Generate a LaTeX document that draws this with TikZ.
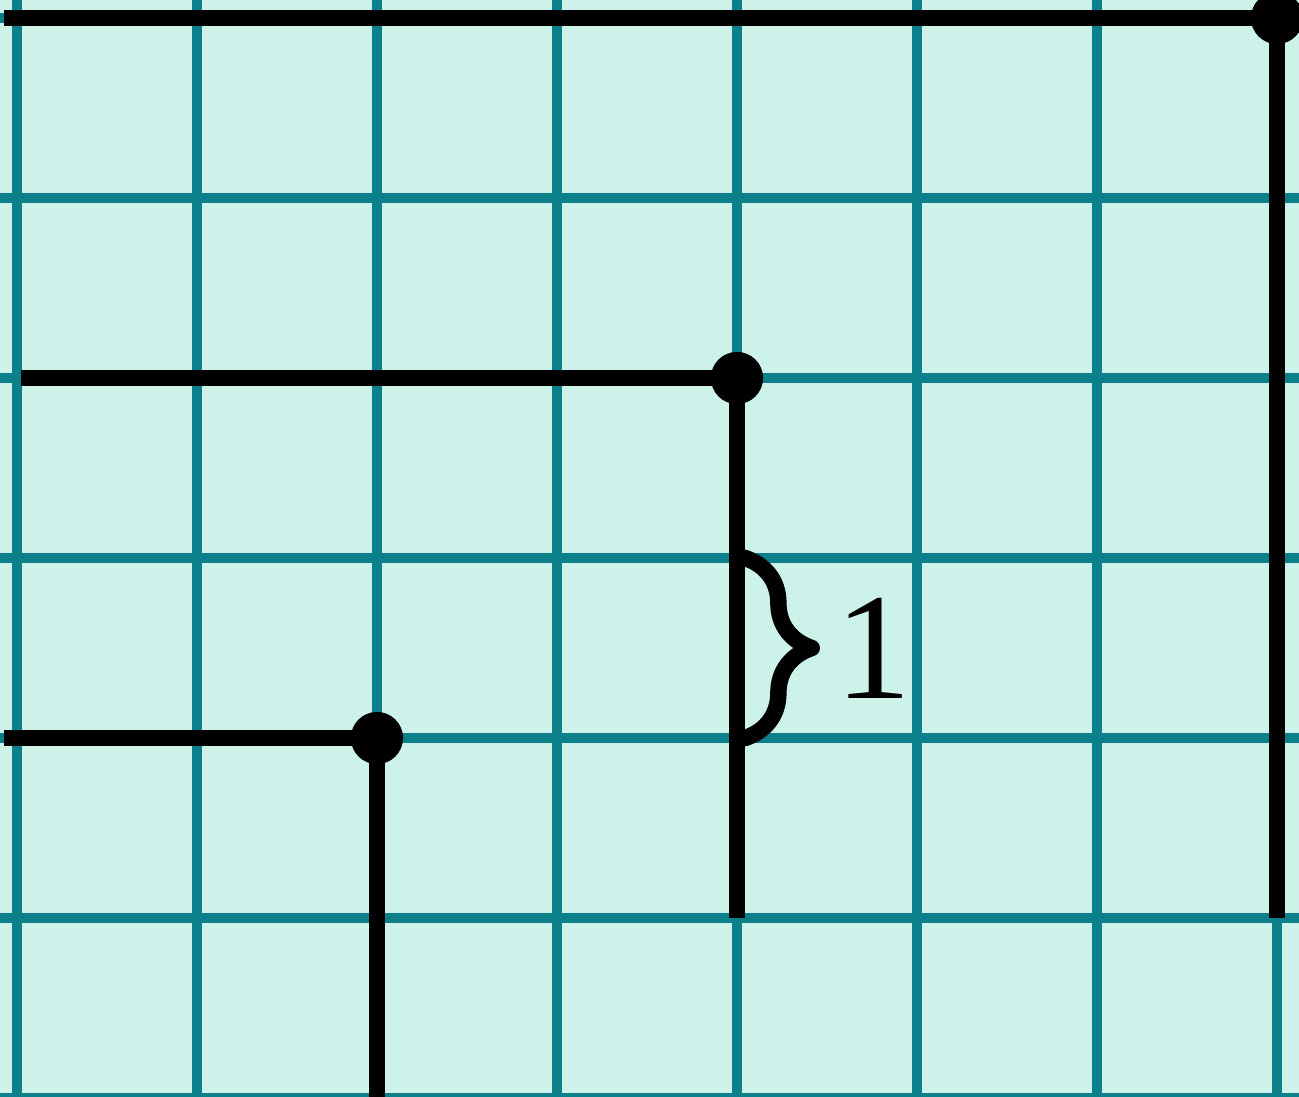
\documentclass[tikz,border=0pt]{standalone}
\usepackage{fontspec}
\setmainfont{Liberation Serif}
\usetikzlibrary{decorations.pathreplacing}
\definecolor{paper}{RGB}{204,242,234}
\definecolor{gridteal}{RGB}{12,128,138}

\begin{document}
\begin{tikzpicture}[scale=1,
   gridline/.style={gridteal,line width=1.5pt},
   seg/.style={black,line width=2.6pt},
   dot/.style={black}]
   \fill[paper] (-0.094,0.006) rectangle (7.122,6.1);
   \useasboundingbox (-0.094,0.006) rectangle (7.122,6.1);
   \clip (-0.094,0.006) rectangle (7.122,6.1);
   \foreach \x in {0,...,7} \draw[gridline] (\x,-0.2) -- (\x,6.3);
   \foreach \y in {0,...,6} \draw[gridline] (-0.3,\y) -- (7.3,\y);
   % corners
   \coordinate (c1) at (2,2);
   \coordinate (c2) at (4,4);
   \coordinate (c3) at (7,6);
   \coordinate (s1) at (-0.07,2);
   \coordinate (s2) at (0.02,4);
   \coordinate (s3) at (-0.07,6);
   \coordinate (e1) at (2,-0.1);
   \coordinate (e2) at (4,1);
   \coordinate (e3) at (7,1);
   \foreach \i in {1,2,3} {
    \draw[seg] (s\i) -- (c\i) -- (e\i);
    \fill[dot] (c\i) circle(0.145);
   }
   \coordinate (b1) at (4.045,3);
   \coordinate (b2) at (4.045,2);
   \draw[seg,line cap=round,line join=round,decorate,decoration={brace,amplitude=0.37cm}] (b1) -- (b2);
   \node[inner sep=0pt,font=\fontsize{24}{30}\selectfont] (lbl) at (4.76,2.5) {1};
  \end{tikzpicture}
\end{document}
